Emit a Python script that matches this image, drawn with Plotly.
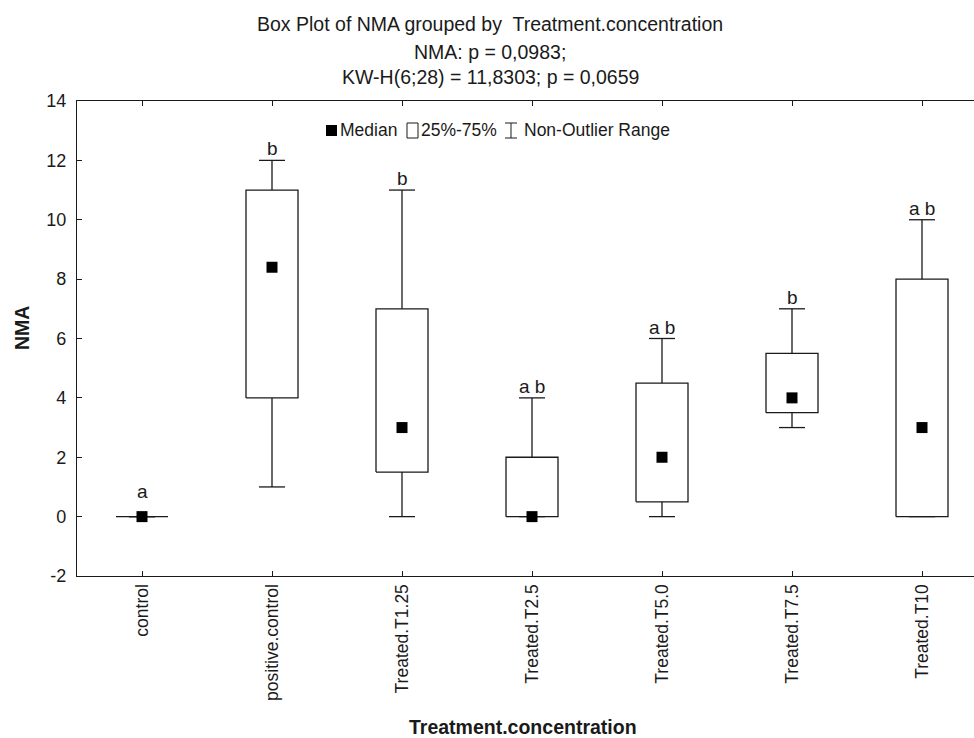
import plotly.graph_objects as go

# Box plot summary for NMA by treatment concentration
groups = ["control", "positive.control", "Treated.T1.25", "Treated.T2.5",
          "Treated.T5.0", "Treated.T7.5", "Treated.T10"]
median = [0, 8.4, 3, 0, 2, 4, 3]
q1 = [0, 4, 1.5, 0, 0.5, 3.5, 0]
q3 = [0, 11, 7, 2, 4.5, 5.5, 8]
whisk_lo = [0, 1, 0, 0, 0, 3, 0]
whisk_hi = [0, 12, 11, 4, 6, 7, 10]
letters = ["a", "b", "b", "a b", "a b", "b", "a b"]

y_ticks = [-2, 0, 2, 4, 6, 8, 10, 12, 14]

title_lines = ["Box Plot of NMA grouped by  Treatment.concentration",
               "NMA: p = 0,0983;",
               "KW-H(6;28) = 11,8303; p = 0,0659"]

FONT = "Liberation Sans, Arial, sans-serif"
INK = "#1a1a1a"
W, H = 974, 738
ML, MR, MT, MB = 77, 0, 101, 162
PW, PH = W - ML - MR, H - MT - MB
MARKER = 11


def px(x):
    return (x - ML) / PW


def py(y):
    return (H - MB - y) / PH


BOX_HALF = 0.2
CAP_HALF = 0.1

xs = list(range(len(groups)))

# box outlines
bx, by = [], []
for i in xs:
    bx += [i - BOX_HALF, i + BOX_HALF, i + BOX_HALF, i - BOX_HALF, i - BOX_HALF, None]
    by += [q1[i], q1[i], q3[i], q3[i], q1[i], None]

# whiskers with caps
wx, wy = [], []
for i in xs:
    wx += [i, i, None, i - CAP_HALF, i + CAP_HALF, None]
    wy += [q3[i], whisk_hi[i], None, whisk_hi[i], whisk_hi[i], None]
    wx += [i, i, None, i - CAP_HALF, i + CAP_HALF, None]
    wy += [q1[i], whisk_lo[i], None, whisk_lo[i], whisk_lo[i], None]

fig = go.Figure()
fig.add_trace(go.Scatter(x=wx, y=wy, mode="lines",
                         line=dict(color=INK, width=1.3), hoverinfo="skip",
                         showlegend=False))
fig.add_trace(go.Scatter(x=bx, y=by, mode="lines",
                         line=dict(color=INK, width=1.3), hoverinfo="skip",
                         showlegend=False))
fig.add_trace(go.Scatter(x=xs, y=median, mode="markers",
                         marker=dict(symbol="square", size=MARKER, color="black"),
                         showlegend=False))

annotations = []
for i in xs:
    # lift the letter clear of the median marker when it sits at the top
    shift = MARKER + 2 if median[i] >= whisk_hi[i] else -1
    annotations.append(dict(x=i, y=whisk_hi[i], xref="x", yref="y",
                            text=letters[i], showarrow=False,
                            yanchor="bottom", yshift=shift,
                            font=dict(size=19, color=INK, family=FONT)))

# title block
for line, ypix in zip(title_lines, [24, 52, 77]):
    annotations.append(dict(x=px(490), y=py(ypix), xref="paper", yref="paper",
                            text=line, showarrow=False, xanchor="center",
                            yanchor="middle",
                            font=dict(size=19.5, color=INK, family=FONT)))

# axis titles
annotations.append(dict(x=px(523), y=py(727), xref="paper", yref="paper",
                        text="<b>Treatment.concentration</b>", showarrow=False,
                        xanchor="center", yanchor="middle",
                        font=dict(size=19.5, color=INK, family=FONT)))
annotations.append(dict(x=px(22), y=py(328), xref="paper", yref="paper",
                        text="<b>NMA</b>", showarrow=False, textangle=-90,
                        xanchor="center", yanchor="middle",
                        font=dict(size=19.5, color=INK, family=FONT)))

# legend key
LY = 130
shapes = [
    dict(type="rect", xref="paper", yref="paper",
         x0=px(326), x1=px(337), y0=py(136), y1=py(125),
         fillcolor="black", line=dict(width=0)),
    dict(type="rect", xref="paper", yref="paper",
         x0=px(407), x1=px(418), y0=py(138), y1=py(123),
         fillcolor="white", line=dict(color=INK, width=1)),
    dict(type="line", xref="paper", yref="paper",
         x0=px(511), x1=px(511), y0=py(138), y1=py(123),
         line=dict(color=INK, width=1)),
    dict(type="line", xref="paper", yref="paper",
         x0=px(505), x1=px(517), y0=py(123), y1=py(123),
         line=dict(color=INK, width=1)),
    dict(type="line", xref="paper", yref="paper",
         x0=px(505), x1=px(517), y0=py(138), y1=py(138),
         line=dict(color=INK, width=1)),
]
for text, xpix in [("Median", 340), ("25%-75%", 421), ("Non-Outlier Range", 524)]:
    annotations.append(dict(x=px(xpix), y=py(LY), xref="paper", yref="paper",
                            text=text, showarrow=False, xanchor="left",
                            yanchor="middle", xshift=-2,
                            font=dict(size=17.5, color=INK, family=FONT)))

fig.update_layout(
    width=W, height=H,
    margin=dict(l=ML, r=MR, t=MT, b=MB),
    paper_bgcolor="white", plot_bgcolor="white",
    font=dict(family=FONT, size=16, color=INK),
    showlegend=False,
    annotations=annotations,
    shapes=shapes,
    xaxis=dict(range=[-0.5, 6.4], tickmode="array", tickvals=xs, ticktext=groups,
               tickangle=-90, ticks="inside", ticklen=5, tickcolor=INK,
               showline=True, linecolor=INK, linewidth=1.3, mirror="ticks",
               showgrid=False, zeroline=False,
               tickfont=dict(size=17.5, color=INK, family=FONT)),
    yaxis=dict(range=[-2, 14], tickmode="array", tickvals=y_ticks,
               ticktext=[str(v) for v in y_ticks],
               ticks="inside", ticklen=5, tickcolor=INK,
               showline=True, linecolor=INK, linewidth=1.3, mirror=False,
               showgrid=False, zeroline=False, ticklabelstandoff=6,
               tickfont=dict(size=18, color=INK, family=FONT)),
)

fig.write_html("out.html")
